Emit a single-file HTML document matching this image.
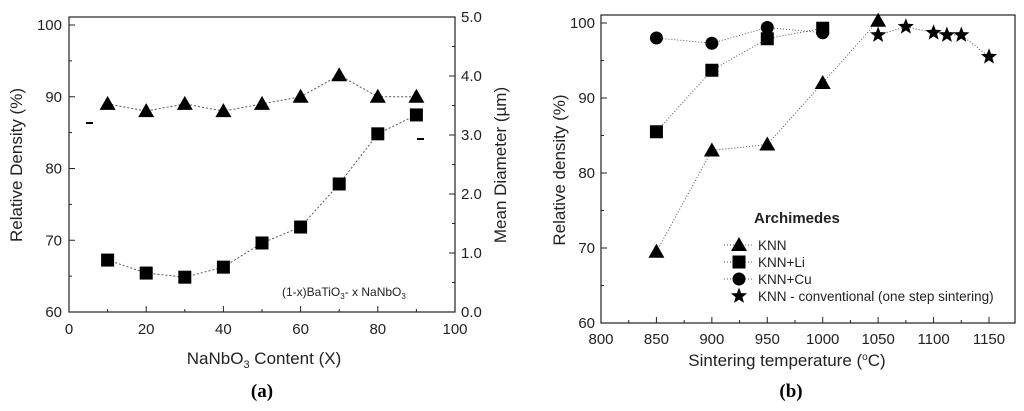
<!DOCTYPE html>
<html><head><meta charset="utf-8"><style>
body{margin:0;background:#fff;}
svg{display:block;font-family:"Liberation Sans",sans-serif;}
</style></head><body>
<svg id="s" width="1024" height="411" viewBox="0 0 1024 411"></svg>
<script>
// Panel (a)
const aX=[10,20,30,40,50,60,70,80,90];
const aDensity=[89,88,89,88,89,90,93,90,90];
const aDiameter=[0.88,0.66,0.59,0.76,1.17,1.44,2.17,3.02,3.34];
const aXTicks=[0,20,40,60,80,100];
const aYTicks=[60,70,80,90,100];
const aY2Ticks=["0.0","1.0","2.0","3.0","4.0","5.0"];
// Panel (b)
const bXTicks=[800,850,900,950,1000,1050,1100,1150];
const bYTicks=[60,70,80,90,100];
const bTemps=[850,900,950,1000,1050];
const bKNN=[69.5,83,83.8,92,100.3];
const bLiT=[850,900,950,1000];
const bLi=[85.5,93.7,97.9,99.3];
const bCuT=[850,900,950,1000];
const bCu=[98,97.3,99.4,98.7];
const bStarT=[1050,1075,1100,1112,1125,1150];
const bStar=[98.4,99.5,98.7,98.4,98.4,95.5];

const S=document.getElementById('s');const NS='http://www.w3.org/2000/svg';
function el(t,a,txt){const e=document.createElementNS(NS,t);for(const k in a)e.setAttribute(k,a[k]);if(txt!==undefined)e.textContent=txt;S.appendChild(e);return e;}
function tri(x,y,n){const e=el('polygon',{points:`${x},${y-8} ${x-8},${y+6} ${x+8},${y+6}`,fill:'#000'});}
function sq(x,y,n){const e=el('rect',{x:x-6.5,y:y-6.5,width:13,height:13,fill:'#000'});}
function circ(x,y,n){const e=el('circle',{cx:x,cy:y,r:6.5,fill:'#000'});}
function star(x,y,n){let p=[];for(let i=0;i<10;i++){const r=i%2?3.6:8.5,a=-Math.PI/2+i*Math.PI/5;p.push((x+r*Math.cos(a)).toFixed(1)+','+(y+r*Math.sin(a)).toFixed(1));}const e=el('polygon',{points:p.join(' '),fill:'#000'});}
function line(pts,n,dash){const e=el('polyline',{points:pts.map(p=>p.join(',')).join(' '),fill:'none',stroke:'#555','stroke-width':1,'stroke-dasharray':dash||'2,2'});}
function txt(x,y,s,n,o){const e=el('text',Object.assign({x:x,y:y,'font-size':15,fill:'#222'},o||{}),s);return e;}

// ---- Panel a ----
const ax=v=>69+v*(455-69)/100, ay=v=>312-(v-60)*(312-25)/40, ay2=v=>312-v*(312-17)/5;
let f=el('rect',{x:69,y:17,width:386,height:295,fill:'none',stroke:'#222','stroke-width':1.2});

aXTicks.forEach(v=>{el('line',{x1:ax(v),x2:ax(v),y1:312,y2:306,stroke:'#222'});txt(ax(v),334,v,'x-tick-a',{'text-anchor':'middle'});});
for(let v=10;v<100;v+=20)el('line',{x1:ax(v),x2:ax(v),y1:312,y2:309,stroke:'#222'});
aYTicks.forEach(v=>{el('line',{x1:69,x2:75,y1:ay(v),y2:ay(v),stroke:'#222'});txt(62,ay(v)+5,v,'y-tick-a',{'text-anchor':'end'});});
for(let v=65;v<100;v+=10)el('line',{x1:69,x2:72,y1:ay(v),y2:ay(v),stroke:'#222'});
aY2Ticks.forEach((s,i)=>{el('line',{x1:449,x2:455,y1:ay2(i),y2:ay2(i),stroke:'#222'});txt(461,ay2(i)+5,s,'y2-tick-a');});
for(let v=0.5;v<5;v+=1)el('line',{x1:452,x2:455,y1:ay2(v),y2:ay2(v),stroke:'#222'});
line(aX.map((x,i)=>[ax(x),ay(aDensity[i])]),'density-line');
line(aX.map((x,i)=>[ax(x),ay2(aDiameter[i])]),'diameter-line');
aX.forEach((x,i)=>tri(ax(x),ay(aDensity[i]),'density-point'));
aX.forEach((x,i)=>sq(ax(x),ay2(aDiameter[i]),'diameter-point'));
el('line',{x1:86,x2:93,y1:123,y2:123,stroke:'#000','stroke-width':2});
el('line',{x1:417,x2:424,y1:139,y2:139,stroke:'#000','stroke-width':2});
let t=txt(282,296,'','annotation-a',{'font-size':12});t.innerHTML='(1-x)BaTiO<tspan font-size="8" dy="3">3</tspan><tspan dy="-3">- x NaNbO</tspan><tspan font-size="8" dy="3">3</tspan>';
t=txt(264,364,'','x-title-a',{'text-anchor':'middle','font-size':17});t.innerHTML='NaNbO<tspan font-size="11" dy="4">3</tspan><tspan dy="-4"> Content (X)</tspan>';
txt(22,165,'Relative Density (%)','y-title-a',{'text-anchor':'middle','font-size':17,transform:'rotate(-90 22 165)'});
txt(506,165,'Mean Diameter (\u00b5m)','y2-title-a',{'text-anchor':'middle','font-size':17,transform:'rotate(-90 506 165)'});
txt(262,397,'(a)','caption-a',{'text-anchor':'middle','font-size':19,'font-family':'Liberation Serif','fill':'#000','font-weight':'bold'});

// ---- Panel b ----
const bx=v=>601+(v-800)*(989-601)/350, by=v=>323-(v-60)*(323-23)/40;
f=el('rect',{x:601,y:15,width:414,height:308,fill:'none',stroke:'#222','stroke-width':1.2});

bXTicks.forEach(v=>{el('line',{x1:bx(v),x2:bx(v),y1:323,y2:317,stroke:'#222'});txt(bx(v),344,v,'x-tick-b',{'text-anchor':'middle'});});
for(let v=825;v<1175;v+=50)el('line',{x1:bx(v),x2:bx(v),y1:323,y2:320,stroke:'#222'});
bYTicks.forEach(v=>{el('line',{x1:601,x2:607,y1:by(v),y2:by(v),stroke:'#222'});txt(595,by(v)+5,v,'y-tick-b',{'text-anchor':'end'});});
for(let v=65;v<100;v+=10)el('line',{x1:601,x2:604,y1:by(v),y2:by(v),stroke:'#222'});
line(bTemps.map((x,i)=>[bx(x),by(bKNN[i])]),'knn-line','1,2');
line(bLiT.map((x,i)=>[bx(x),by(bLi[i])]),'knn-li-line','1,2');
line(bCuT.map((x,i)=>[bx(x),by(bCu[i])]),'knn-cu-line','1,2');
line(bStarT.map((x,i)=>[bx(x),by(bStar[i])]),'knn-conventional-line','1,2');
bTemps.forEach((x,i)=>tri(bx(x),by(bKNN[i]),'knn-point'));
bLiT.forEach((x,i)=>sq(bx(x),by(bLi[i]),'knn-li-point'));
bCuT.forEach((x,i)=>circ(bx(x),by(bCu[i]),'knn-cu-point'));
bStarT.forEach((x,i)=>star(bx(x),by(bStar[i]),'knn-conventional-point'));
txt(754,223,'Archimedes','legend-title',{'font-weight':'bold'});
const lg=[['KNN',tri],['KNN+Li',sq],['KNN+Cu',circ],['KNN - conventional  (one step sintering)',star]];
lg.forEach((g,i)=>{const y=245+i*17;if(i<3)line([[724,y],[752,y]],'legend-line','1,2');g[1](739,y,'legend-marker');txt(758,y+5,g[0],'legend-entry',{'font-size':13.5,'xml:space':'preserve'});});
t=txt(787,366,'','x-title-b',{'text-anchor':'middle','font-size':17});t.innerHTML='Sintering temperature (<tspan font-size="10" dy="-6">o</tspan><tspan dy="6">C)</tspan>';
txt(565,170,'Relative density (%)','y-title-b',{'text-anchor':'middle','font-size':17,transform:'rotate(-90 565 170)'});
txt(791,397,'(b)','caption-b',{'text-anchor':'middle','font-size':19,'font-family':'Liberation Serif','fill':'#000','font-weight':'bold'});
</script></body></html>
